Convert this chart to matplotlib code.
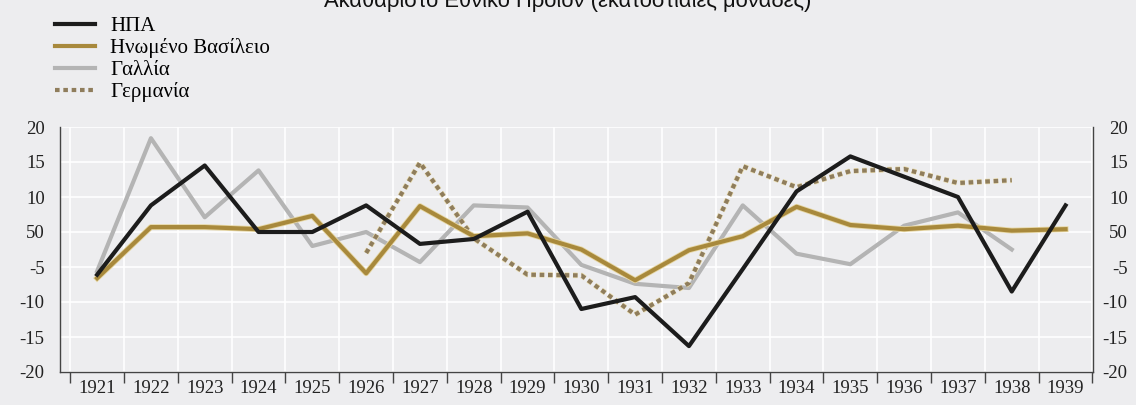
import matplotlib
matplotlib.use("Agg")
import matplotlib.pyplot as plt
import matplotlib.patheffects as pe
from matplotlib.lines import Line2D

years = list(range(1921, 1940))
usa = [-1.1, 8.8, 14.5, 5.0, 5.0, 8.8, 3.3, 4.0, 7.9, -6.0, -4.3, -11.3, -0.3, 10.8, 15.8, 12.9, 10.0, -3.5, 8.8]
uk = [-1.6, 5.7, 5.7, 5.4, 7.3, -0.9, 8.7, 4.4, 4.8, 2.5, -1.9, 2.4, 4.4, 8.6, 6.0, 5.4, 5.9, 5.2, 5.4]
france = [-0.6, 18.4, 7.1, 13.8, 3.0, 5.0, 0.7, 8.8, 8.5, 0.3, -2.4, -3.0, 8.8, 1.9, 0.4, 5.9, 7.8, 2.5]
germany_years = list(range(1926, 1939))
germany = [2.0, 14.9, 4.1, -1.1, -1.2, -6.8, -2.3, 14.4, 11.4, 13.7, 14.0, 12.0, 12.4]

ytick_vals = [20, 15, 10, 5, 0, -5, -10, -15]
ytick_labels = ["20", "15", "10", "50", "-5", "-10", "-15", "-20"]
series_labels = ["ΗΠΑ", "Ηνωμένο Βασίλειο", "Γαλλία", "Γερμανία"]
title = "Ακαθάριστο Εθνικό Προϊόν (εκατοστιαίες μονάδες)"

bg = "#ededef"
c_usa = "#1c1c1c"
c_uk = "#a8893c"
c_fr = "#b4b4b4"
c_de = "#8f7d5c"

W, H = 1136, 405
fig = plt.figure(figsize=(W / 100, H / 100), dpi=100, facecolor=bg)
ax = fig.add_axes([60 / W, 1 - 372 / H, (1093 - 60) / W, (372 - 127) / H])
ax.set_facecolor(bg)

halo_uk = [pe.Stroke(linewidth=4.2, foreground="#e6d6a2"), pe.Normal()]
halo_de = [pe.Stroke(linewidth=4.0, foreground="#e9dcae"), pe.Normal()]

ax.plot(years[:len(france)], france, color=c_fr, lw=3.0, zorder=3)
ax.plot(germany_years, germany, color=c_de, lw=3.0, linestyle=(0, (1.1, 0.9)), zorder=4,
        path_effects=halo_de)
ax.plot(years, uk, color=c_uk, lw=3.0, zorder=5, path_effects=halo_uk)
ax.plot(years, usa, color=c_usa, lw=3.0, zorder=6)

ax.set_xlim(1920.31, 1939.51)
ax.set_ylim(-15, 20)

serif = "Liberation Serif"
ax.set_yticks(ytick_vals)
ax.set_yticklabels(ytick_labels, fontfamily=serif, fontsize=13.5, color="#222222")
ax.tick_params(axis="y", length=0, pad=11)

bounds = [y - 0.5 for y in years] + [years[-1] + 0.5]
ax.set_xticks(bounds)
ax.set_xticklabels([])
ax.set_xticks(years, minor=True)
ax.set_xticklabels([str(y) for y in years], minor=True, fontfamily=serif, fontsize=13.5, color="#222222")
ax.tick_params(axis="x", which="major", direction="out", length=8, width=1, color="#444444")
ax.tick_params(axis="x", which="minor", length=0, pad=6)

ax.grid(True, which="major", color="white", lw=1.2, zorder=0)
ax.set_axisbelow(True)

ax.spines["top"].set_visible(False)
for s in ["left", "right", "bottom"]:
    ax.spines[s].set_color("#444444")
    ax.spines[s].set_linewidth(1.0)

ax2 = ax.twinx()
ax2.set_ylim(ax.get_ylim())
ax2.set_yticks(ytick_vals)
ax2.set_yticklabels(ytick_labels, fontfamily=serif, fontsize=13.5, color="#222222", ha="right")
ax2.tick_params(axis="y", length=0, pad=25)
for s in ["top", "left", "bottom", "right"]:
    ax2.spines[s].set_visible(False)

handles = [
    Line2D([], [], color=c_usa, lw=3.0),
    Line2D([], [], color=c_uk, lw=3.0),
    Line2D([], [], color=c_fr, lw=3.0),
    Line2D([], [], color=c_de, lw=3.0, linestyle=(0, (1.1, 0.9))),
]
fig.legend(handles, series_labels, loc="upper left", bbox_to_anchor=(55 / W, 1 - 16.5 / H),
           frameon=False, prop={"family": serif, "size": 15}, handlelength=1.9,
           handletextpad=0.75, labelspacing=0.1, borderpad=0, borderaxespad=0)

fig.text(0.5, 1 - 7 / H, title, ha="center", va="baseline", fontfamily="Liberation Sans",
         fontsize=15.8, color="#111111")

fig.savefig("out.png", dpi=100, facecolor=bg)
